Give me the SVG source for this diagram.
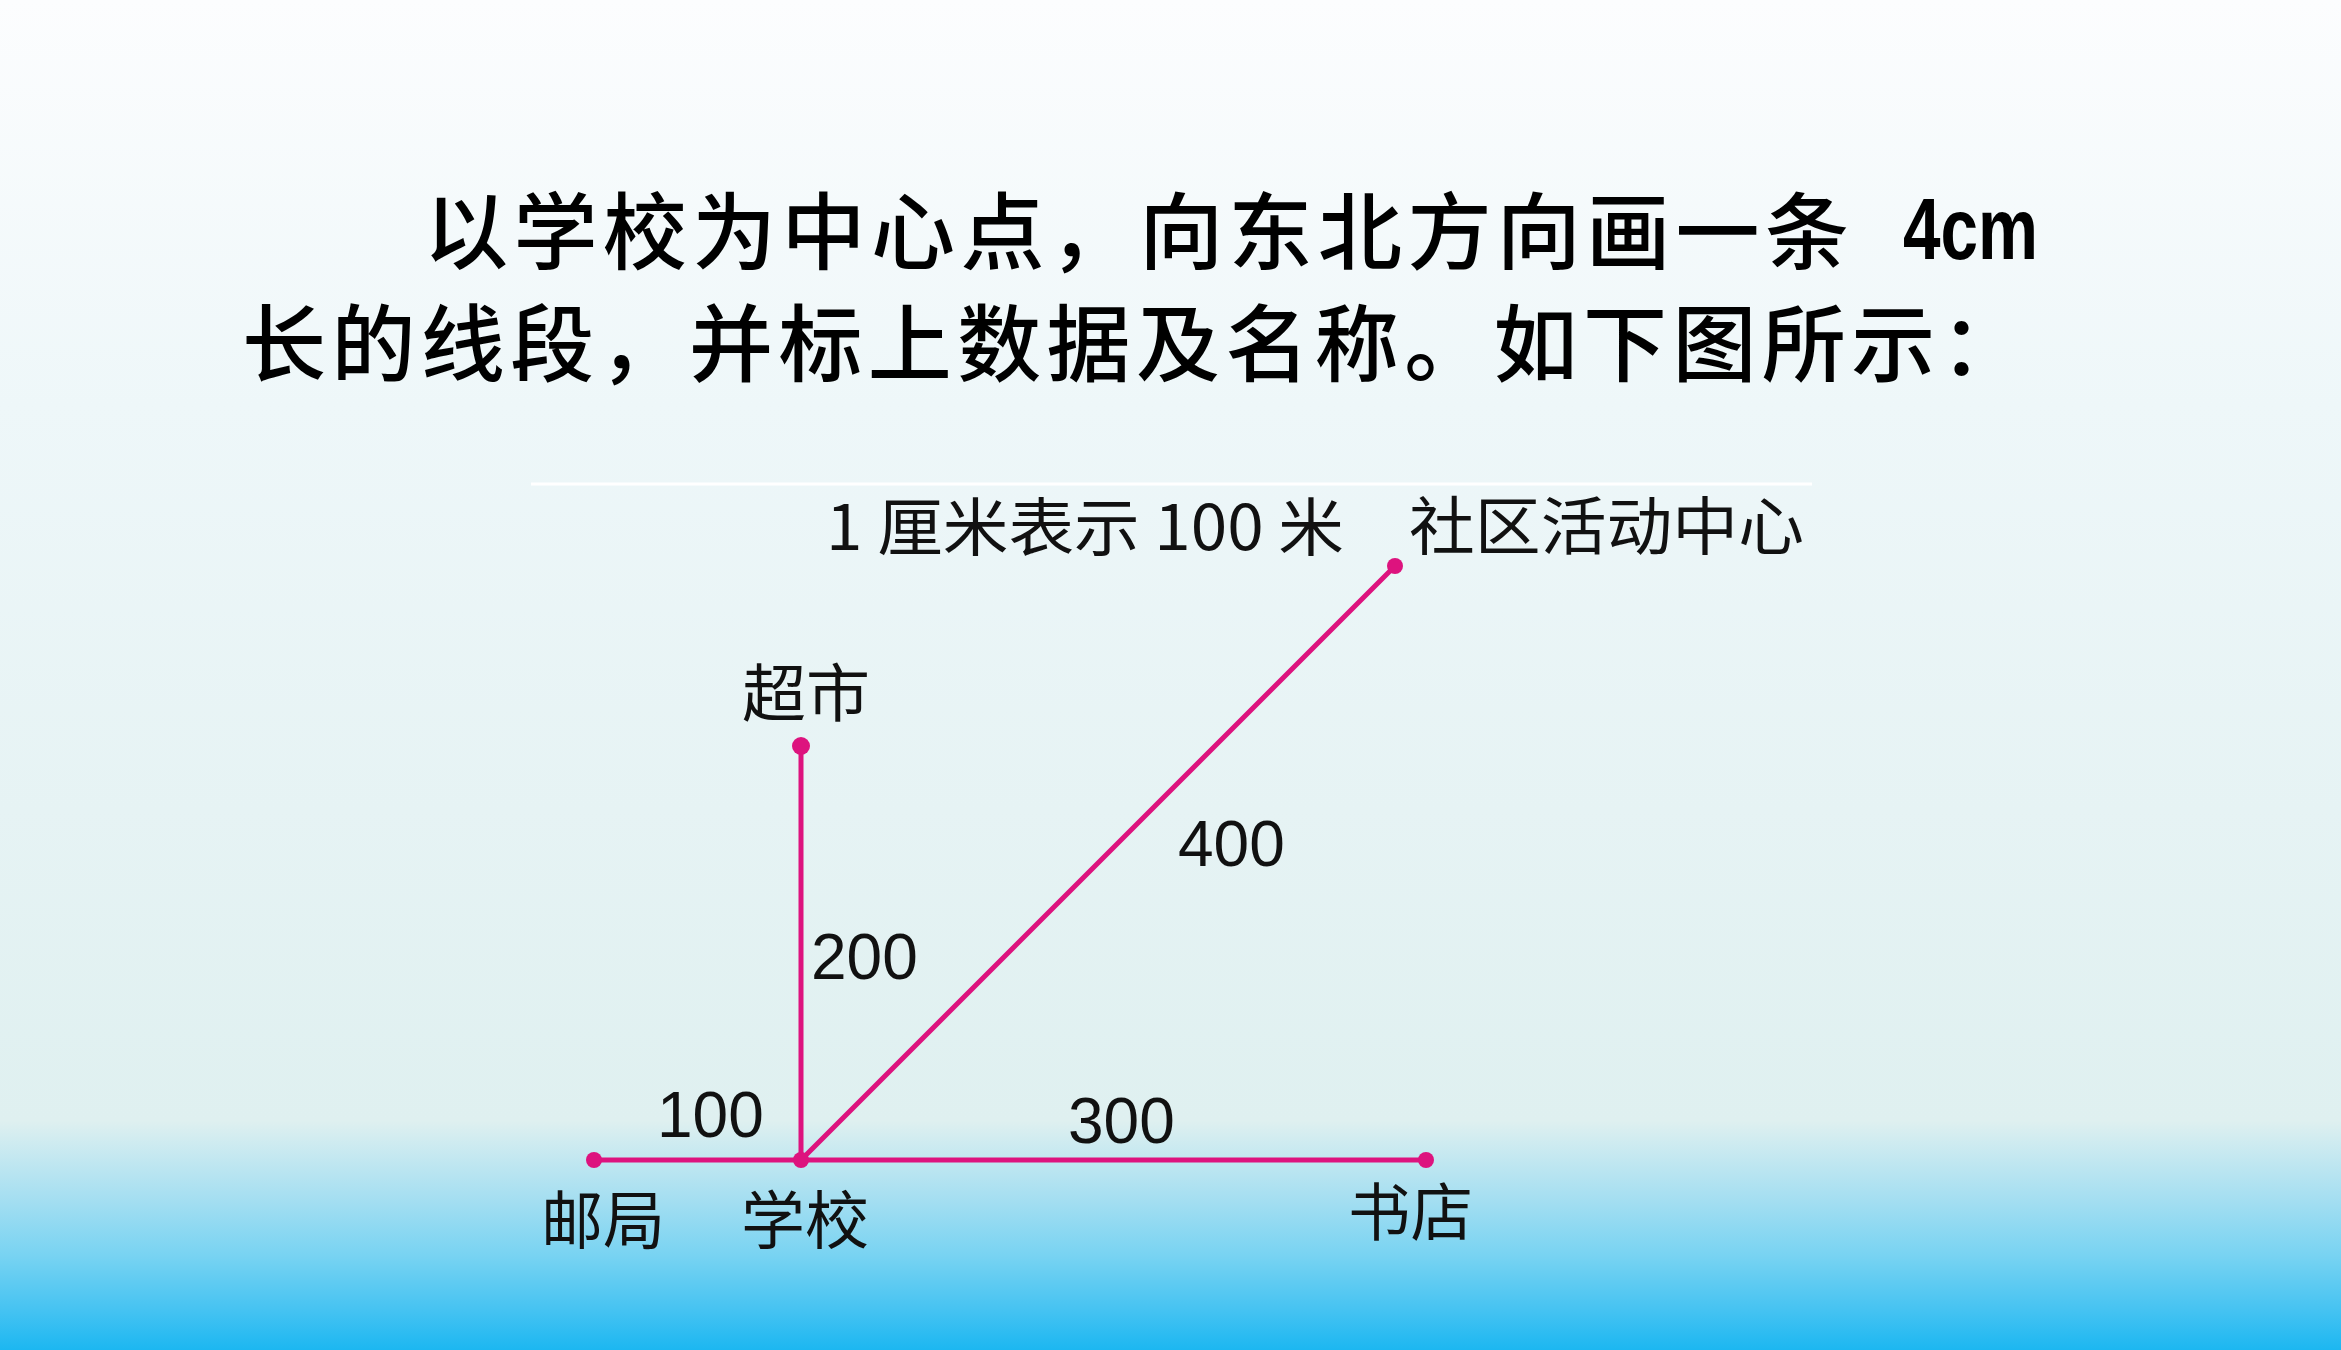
<svg xmlns="http://www.w3.org/2000/svg" width="2341" height="1350" viewBox="0 0 2341 1350">
<defs>
<linearGradient id="bg" x1="0" y1="0" x2="0" y2="1350" gradientUnits="userSpaceOnUse">
<stop offset="0" stop-color="#fcfdfe"/>
<stop offset="0.3" stop-color="#eef7f9"/>
<stop offset="0.6" stop-color="#e6f3f4"/>
<stop offset="0.83" stop-color="#dff0f0"/>
<stop offset="0.89" stop-color="#a3def1"/>
<stop offset="0.93" stop-color="#78d3f2"/>
<stop offset="0.97" stop-color="#46c3f2"/>
<stop offset="1" stop-color="#1cb7f1"/>
</linearGradient>
<style>
.title{font-family:"Noto Sans CJK SC","Noto Sans",sans-serif;font-size:84px;font-weight:500;fill:#000;letter-spacing:5.4px}
.num{font-family:"Liberation Sans",Arial,sans-serif;font-size:64px;fill:#111}
.lbl{font-family:"Noto Sans CJK SC","Noto Sans",sans-serif;font-size:63px;fill:#111}
.seg{stroke:#dd137e;stroke-width:5;stroke-linecap:round;fill:none}
.dot{fill:#dd137e}
</style>
</defs>
<rect x="0" y="0" width="2341" height="1350" fill="url(#bg)"/>
<g id="title">
<text class="title" x="424" y="263">以学校为中心点，向东北方向画一条</text>
<text x="1903" y="259" font-family="Liberation Sans,Arial,sans-serif" font-weight="bold" font-size="87" textLength="135" lengthAdjust="spacingAndGlyphs" fill="#000">4cm</text>
<text class="title" x="242" y="375">长的线段，并标上数据及名称。如下图所示：</text>
</g>
<line x1="531" y1="484" x2="1812" y2="484" stroke="#ffffff" stroke-width="3"/>
<g id="scale"><text class="lbl" x="826" y="550" font-size="60" textLength="518" lengthAdjust="spacingAndGlyphs">1 厘米表示 100 米</text></g>
<g id="connectors">
<line class="seg" x1="594" y1="1160" x2="1426" y2="1160" stroke-width="6"/>
<line class="seg" x1="801" y1="1160" x2="801" y2="746" stroke-width="4"/>
<line class="seg" x1="801" y1="1160" x2="1395" y2="566"/>
<text class="num" x="657" y="1137">100</text>
<text class="num" x="811" y="979">200</text>
<text class="num" x="1068" y="1143">300</text>
<text class="num" x="1178" y="866">400</text>
</g>
<g id="school"><circle class="dot" cx="801" cy="1160" r="8"/><text class="lbl" x="741" y="1243" textLength="128" lengthAdjust="spacingAndGlyphs">学校</text></g>
<g id="post"><circle class="dot" cx="594" cy="1160" r="8"/><text class="lbl" x="541" y="1243" textLength="124" lengthAdjust="spacingAndGlyphs">邮局</text></g>
<g id="bookstore"><circle class="dot" cx="1426" cy="1160" r="8"/><text class="lbl" x="1348" y="1235" textLength="125" lengthAdjust="spacingAndGlyphs">书店</text></g>
<g id="supermarket"><circle class="dot" cx="801" cy="746" r="9"/><text class="lbl" x="742" y="716" textLength="128" lengthAdjust="spacingAndGlyphs">超市</text></g>
<g id="community"><circle class="dot" cx="1395" cy="566" r="8"/><text class="lbl" x="1409" y="549" textLength="395" lengthAdjust="spacingAndGlyphs">社区活动中心</text></g>
</svg>
